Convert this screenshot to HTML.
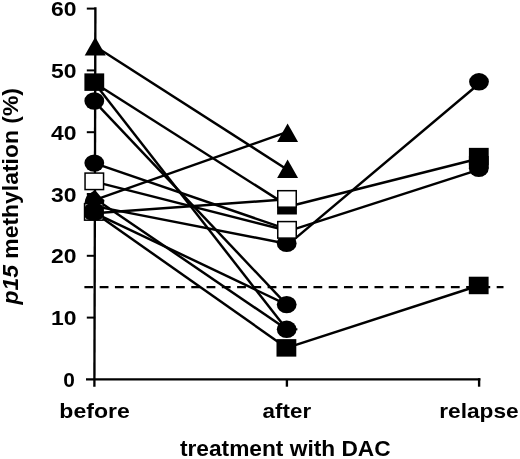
<!DOCTYPE html>
<html><head><meta charset="utf-8"><title>chart</title>
<style>
html,body{margin:0;padding:0;background:#fff;}
body{width:520px;height:459px;overflow:hidden;}
svg{display:block;will-change:transform;}
text{font-family:"Liberation Sans",sans-serif;font-weight:bold;fill:#000;}
</style></head><body>
<svg width="520" height="459" viewBox="0 0 520 459">
<rect width="520" height="459" fill="#fff"/>

<g stroke="#000" stroke-width="2.35" fill="none" stroke-linecap="butt">
<line x1="95.4" y1="7.2" x2="94.4" y2="386.8"/>
<line x1="86" y1="379.4" x2="480.4" y2="379.4"/>
<line x1="86.8" y1="317.6" x2="95.2" y2="317.6" stroke-width="2.0"/>
<line x1="86.8" y1="255.8" x2="95.2" y2="255.8" stroke-width="2.0"/>
<line x1="86.8" y1="194.0" x2="95.2" y2="194.0" stroke-width="2.0"/>
<line x1="86.8" y1="132.2" x2="95.2" y2="132.2" stroke-width="2.0"/>
<line x1="86.8" y1="70.4" x2="95.2" y2="70.4" stroke-width="2.0"/>
<line x1="86.8" y1="8.6" x2="95.2" y2="8.6" stroke-width="2.0"/>
<line x1="286.9" y1="379.4" x2="286.9" y2="386.7"/>
<line x1="479.1" y1="378.2" x2="479.1" y2="386.7"/>
</g>
<line x1="84.4" y1="287.1" x2="503.5" y2="287.1" stroke="#000" stroke-width="2.3" stroke-dasharray="8.8 6.47"/>
<g stroke="#000" stroke-width="2.45" stroke-linecap="butt">
<line x1="94.3" y1="45.7" x2="286.7" y2="169.3"/>
<line x1="94.3" y1="200.2" x2="286.7" y2="132.2"/>
<line x1="94.3" y1="82.8" x2="286.7" y2="205.1"/>
<line x1="94.3" y1="82.8" x2="286.7" y2="329.3"/>
<line x1="94.3" y1="101.3" x2="286.7" y2="304.6"/>
<line x1="94.3" y1="212.8" x2="286.7" y2="304.6"/>
<line x1="94.3" y1="198.3" x2="286.7" y2="329.3"/>
<line x1="94.3" y1="212.5" x2="286.7" y2="347.9"/>
<line x1="94.3" y1="163.1" x2="286.7" y2="229.2"/>
<line x1="94.3" y1="181.6" x2="286.7" y2="230.5"/>
<line x1="94.3" y1="213.2" x2="286.7" y2="199.3"/>
<line x1="94.3" y1="206.1" x2="286.7" y2="243.7"/>
<line x1="286.7" y1="245.6" x2="479.0" y2="83.7"/>
<line x1="286.7" y1="207.0" x2="479.0" y2="158.5"/>
<line x1="286.7" y1="231.7" x2="479.0" y2="169.6"/>
<line x1="286.7" y1="347.9" x2="479.0" y2="285.5"/>
</g>
<g fill="#000">
<polygon points="95.1,189.9 101.6,197.8 104.4,199.9 103.8,205 84.2,205 85.2,199.6 87.0,195.2"/>
<rect x="84.55" y="203.67" width="18.50" height="16.50" fill="#fff" stroke="#000" stroke-width="1.5"/>
<rect x="84.3" y="203.6" width="19.3" height="16.6" rx="6" ry="5.5"/>
<polygon points="95.2,37.1 105.7,55.5 84.7,55.5"/>
<rect x="84.40" y="73.39" width="19.80" height="17.50"/>
<ellipse cx="94.3" cy="101.0" rx="9.9" ry="8.7"/>
<ellipse cx="94.3" cy="163.1" rx="9.9" ry="8.7"/>
<rect x="85.05" y="173.08" width="18.50" height="16.50" fill="#fff" stroke="#000" stroke-width="1.5"/>
<polygon points="287.6,123.6 298.1,142.0 277.1,142.0"/>
<polygon points="287.6,159.5 298.1,177.9 277.1,177.9"/>
<rect x="277.10" y="196.99" width="19.80" height="17.50"/>
<ellipse cx="286.7" cy="243.4" rx="9.9" ry="8.7"/>
<rect x="277.75" y="190.69" width="18.50" height="16.50" fill="#fff" stroke="#000" stroke-width="1.5"/>
<rect x="277.75" y="221.59" width="18.50" height="16.50" fill="#fff" stroke="#000" stroke-width="1.5"/>
<ellipse cx="286.7" cy="304.6" rx="9.9" ry="8.7"/>
<ellipse cx="286.7" cy="329.3" rx="9.9" ry="8.7"/>
<rect x="295" y="328.3" width="2.4" height="2"/>
<rect x="276.50" y="339.13" width="19.80" height="17.50"/>
<ellipse cx="479.0" cy="81.8" rx="9.9" ry="8.7"/>
<rect x="468.90" y="147.86" width="19.80" height="17.50"/>
<rect x="468.9" y="156" width="19.8" height="12.5"/>
<ellipse cx="478.8" cy="168.4" rx="9.9" ry="8.7"/>
<rect x="468.80" y="276.71" width="19.80" height="17.50"/>
</g>
<text x="63.2" y="387.0" font-size="20.4" textLength="11.6" lengthAdjust="spacingAndGlyphs">0</text>
<text x="51.0" y="325.2" font-size="20.4" textLength="25.5" lengthAdjust="spacingAndGlyphs">10</text>
<text x="51.0" y="263.4" font-size="20.4" textLength="25.5" lengthAdjust="spacingAndGlyphs">20</text>
<text x="51.0" y="201.6" font-size="20.4" textLength="25.5" lengthAdjust="spacingAndGlyphs">30</text>
<text x="51.0" y="139.8" font-size="20.4" textLength="25.5" lengthAdjust="spacingAndGlyphs">40</text>
<text x="51.0" y="78.0" font-size="20.4" textLength="25.5" lengthAdjust="spacingAndGlyphs">50</text>
<text x="51.0" y="16.2" font-size="20.4" textLength="25.5" lengthAdjust="spacingAndGlyphs">60</text>
<text x="59.3" y="418.3" font-size="20.2" textLength="70.5" lengthAdjust="spacingAndGlyphs">before</text>
<text x="262.6" y="418.3" font-size="20.2" textLength="48.5" lengthAdjust="spacingAndGlyphs">after</text>
<text x="439.2" y="418.3" font-size="20.2" textLength="79.5" lengthAdjust="spacingAndGlyphs">relapse</text>
<text x="179.9" y="455.9" font-size="22.7" textLength="210.8" lengthAdjust="spacingAndGlyphs">treatment with DAC</text>
<text transform="translate(18.2,304.5) rotate(-90)" font-size="22.8" textLength="216.5" lengthAdjust="spacingAndGlyphs"><tspan font-style="italic">p15</tspan> methylation (%)</text>
</svg></body></html>
